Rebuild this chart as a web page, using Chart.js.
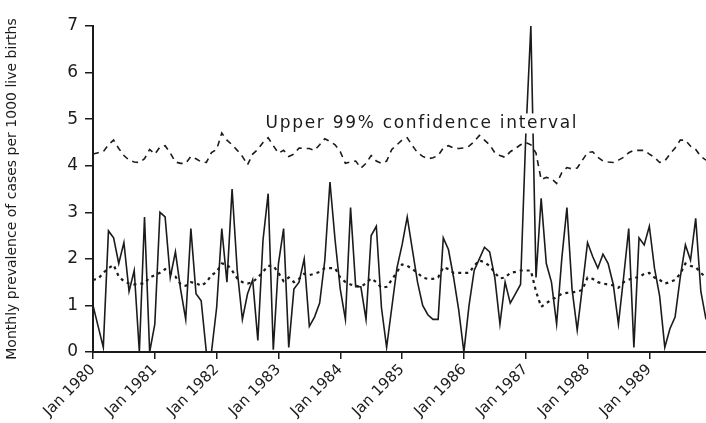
<!DOCTYPE html>
<html>
<head>
<meta charset="utf-8">
<script src="https://cdn.jsdelivr.net/npm/chart.js@4.4.1/dist/chart.umd.min.js"></script>
<style>
  html, body { margin: 0; padding: 0; background: #fff; }
  #wrap { width: 706px; height: 423px; }
</style>
</head>
<body>
<div id="wrap"><canvas id="prevChart"></canvas></div>
<script>
// tick labels on the x axis, one per January
var tickLabels = ['Jan 1980', 'Jan 1981', 'Jan 1982', 'Jan 1983', 'Jan 1984',
                  'Jan 1985', 'Jan 1986', 'Jan 1987', 'Jan 1988', 'Jan 1989'];

// monthly prevalence, Jan 1980 .. Dec 1989
var observed = [
    1.0, 0.55, 0.1, 2.6, 2.45, 1.9, 2.35, 1.3, 1.75, 0.0, 2.9, 0.0,
    0.6, 3.0, 2.9, 1.6, 2.15, 1.35, 0.7, 2.65, 1.25, 1.1, 0.0, 0.0,
    0.95, 2.65, 1.5, 3.5, 1.75, 0.7, 1.25, 1.55, 0.25, 2.4, 3.4, 0.05,
    1.9, 2.65, 0.1, 1.35, 1.5, 2.0, 0.55, 0.75, 1.05, 1.97, 3.65, 2.4,
    1.35, 0.7, 3.1, 1.4, 1.4, 0.7, 2.5, 2.7, 0.95, 0.1, 0.95, 1.8,
    2.3, 2.9, 2.2, 1.5, 1.0, 0.8, 0.7, 0.7, 2.45, 2.2, 1.6, 0.9,
    0.0, 1.0, 1.75, 2.0, 2.25, 2.15, 1.6, 0.6, 1.5, 1.05, 1.25, 1.45,
    4.6, 7.0, 1.6, 3.3, 1.9, 1.5, 0.6, 2.0, 3.1, 1.35, 0.47, 1.4,
    2.35, 2.05, 1.8, 2.1, 1.9, 1.45, 0.6, 1.6, 2.65, 0.1, 2.45, 2.3,
    2.7, 1.8, 1.2, 0.1, 0.5, 0.75, 1.6, 2.3, 1.97, 2.87, 1.3, 0.7
];

var expected = [
    1.55, 1.57, 1.7, 1.8, 1.87, 1.62, 1.52, 1.47, 1.45, 1.47, 1.47, 1.6,
    1.65, 1.7, 1.78, 1.7, 1.62, 1.45, 1.42, 1.5, 1.48, 1.42, 1.5, 1.65,
    1.72, 1.9, 1.88, 1.75, 1.58, 1.5, 1.47, 1.5, 1.6, 1.72, 1.85, 1.85,
    1.7, 1.52, 1.6, 1.5, 1.57, 1.68, 1.65, 1.68, 1.72, 1.8, 1.8, 1.8,
    1.6, 1.5, 1.45, 1.42, 1.4, 1.48, 1.58, 1.5, 1.38, 1.4, 1.55, 1.72,
    1.88, 1.85, 1.78, 1.7, 1.6, 1.57, 1.57, 1.6, 1.82, 1.78, 1.7, 1.7,
    1.7, 1.7, 1.85, 1.97, 1.92, 1.85, 1.7, 1.58, 1.6, 1.7, 1.72, 1.75,
    1.75, 1.75, 1.3, 0.97, 1.05, 1.12, 1.18, 1.25, 1.27, 1.28, 1.3, 1.33,
    1.6, 1.57, 1.5, 1.47, 1.45, 1.43, 1.38, 1.5, 1.55, 1.6, 1.6, 1.68,
    1.7, 1.6, 1.55, 1.47, 1.5, 1.55, 1.68, 1.9, 1.85, 1.82, 1.7, 1.6
];

var upper99 = [
    4.25, 4.28, 4.3, 4.45, 4.55, 4.37, 4.22, 4.12, 4.08, 4.07, 4.15, 4.35,
    4.25, 4.4, 4.43, 4.27, 4.08, 4.05, 4.05, 4.2, 4.15, 4.08, 4.07, 4.28,
    4.35, 4.7, 4.55, 4.45, 4.33, 4.2, 4.02, 4.25, 4.35, 4.5, 4.6, 4.43,
    4.27, 4.33, 4.2, 4.25, 4.38, 4.37, 4.37, 4.33, 4.45, 4.58, 4.52, 4.45,
    4.3, 4.05, 4.08, 4.1, 3.95, 4.05, 4.22, 4.1, 4.05, 4.1, 4.35, 4.45,
    4.55, 4.6, 4.43, 4.28, 4.2, 4.15, 4.17, 4.22, 4.38, 4.43, 4.38, 4.37,
    4.38, 4.42, 4.52, 4.65, 4.55, 4.45, 4.28, 4.22, 4.18, 4.3, 4.37, 4.45,
    4.5, 4.45, 4.27, 3.7, 3.75, 3.72, 3.62, 3.85, 3.96, 3.93, 3.95, 4.12,
    4.28, 4.3, 4.18, 4.1, 4.08, 4.07, 4.12, 4.18, 4.28, 4.33, 4.33, 4.33,
    4.25, 4.18, 4.07, 4.1, 4.25, 4.38, 4.55, 4.55, 4.42, 4.35, 4.2, 4.12
];

var noteText = 'Upper 99% confidence interval';

function toPoints(arr) {
    return arr.map(function(v, i) { return { x: i, y: v }; });
}

var ink = '#1b1b1b';

// text label over the confidence line
var notePlugin = {
    id: 'note',
    afterDatasetsDraw: function(chart) {
        var ctx = chart.ctx;
        var x = chart.scales.x.getPixelForValue(33.5);
        var y = chart.scales.y.getPixelForValue(4.8);
        ctx.save();
        ctx.font = '17px "DejaVu Sans"';
        ctx.letterSpacing = '1.7px';
        var w = ctx.measureText(noteText).width;
        ctx.fillStyle = '#fff';
        ctx.fillRect(x - 2, y - 15, w + 4, 20);
        ctx.fillStyle = ink;
        ctx.textBaseline = 'alphabetic';
        ctx.fillText(noteText, x, y);
        ctx.restore();
    }
};

window.onload = function() {
    var ctx = document.getElementById('prevChart').getContext('2d');
    var prevChart = new Chart(ctx, {
        type: 'line',
        data: {
            datasets: [{
                label: 'Observed',
                data: toPoints(observed),
                borderColor: ink,
                borderWidth: 1.6,
                pointRadius: 0,
                tension: 0
            }, {
                label: 'Expected',
                data: toPoints(expected),
                borderColor: ink,
                borderWidth: 2.2,
                borderDash: [3, 4],
                pointRadius: 0,
                tension: 0
            }, {
                label: 'Upper 99% CI',
                data: toPoints(upper99),
                borderColor: ink,
                borderWidth: 1.6,
                borderDash: [6, 5],
                pointRadius: 0,
                tension: 0
            }]
        },
        options: {
            responsive: true,
            maintainAspectRatio: false,
            animation: false,
            layout: { padding: { top: 26, right: 0, left: 0, bottom: 0 } },
            plugins: {
                legend: { display: false },
                tooltip: { enabled: false }
            },
            scales: {
                x: {
                    type: 'linear',
                    min: 0,
                    max: 119,
                    afterBuildTicks: function(axis) {
                        axis.ticks = tickLabels.map(function(_, k) { return { value: k * 12 }; });
                    },
                    afterFit: function(scale) { scale.height = 71; },
                    ticks: {
                        callback: function(v) { return tickLabels[v / 12]; },
                        maxRotation: 45,
                        minRotation: 45,
                        padding: 2,
                        color: ink,
                        font: { family: 'DejaVu Sans', size: 15 }
                    },
                    grid: { drawOnChartArea: false, color: ink, tickLength: 7, lineWidth: 1.5 },
                    border: { color: ink, width: 2 }
                },
                y: {
                    min: 0,
                    max: 7,
                    afterFit: function(scale) { scale.width = 93; },
                    ticks: {
                        stepSize: 1,
                        padding: 7,
                        color: ink,
                        font: { family: 'DejaVu Sans', size: 17 }
                    },
                    grid: { drawOnChartArea: false, color: ink, tickLength: 8, lineWidth: 1.5 },
                    border: { color: ink, width: 2 },
                    title: {
                        display: true,
                        text: 'Monthly prevalence of cases per 1000 live births',
                        color: ink,
                        font: { family: 'DejaVu Sans', size: 14 },
                        padding: { top: 4, bottom: 4 }
                    }
                }
            }
        },
        plugins: [notePlugin]
    });
};
</script>
</body>
</html>
